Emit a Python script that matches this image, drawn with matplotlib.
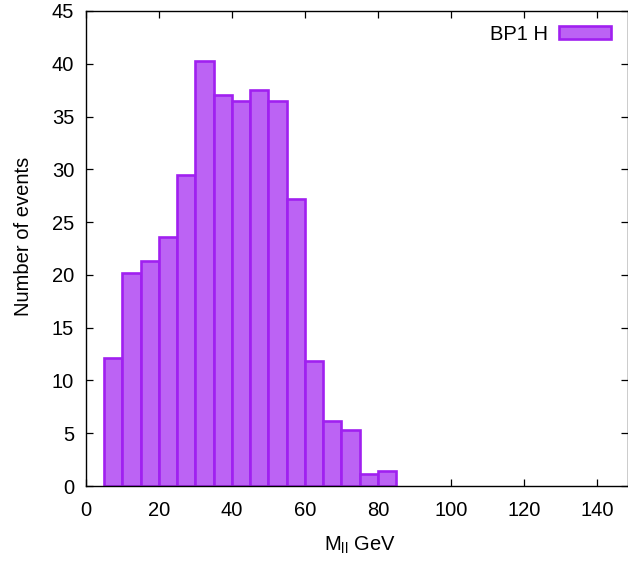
import matplotlib
matplotlib.use('Agg')
from matplotlib import pyplot as plt
import numpy as np

# histogram bins (GeV), width 5
bin_edges = [5, 10, 15, 20, 25, 30, 35, 40, 45, 50, 55, 60, 65, 70, 75, 80, 85]
counts = [12.1, 20.2, 21.3, 23.6, 29.5, 40.3, 37.0, 36.5, 37.5, 36.5,
          27.2, 11.8, 6.2, 5.35, 1.15, 1.45]
series_label = 'BP1 H'

x_ticks = [0, 20, 40, 60, 80, 100, 120, 140]
y_ticks = [0, 5, 10, 15, 20, 25, 30, 35, 40, 45]

font = 'Liberation Sans'
fs = 14.5
plt.rcParams['font.family'] = [font, 'DejaVu Sans']
plt.rcParams['mathtext.fontset'] = 'custom'
plt.rcParams['mathtext.rm'] = font
plt.rcParams['mathtext.it'] = font

fig = plt.figure(figsize=(6.28, 5.63), dpi=100)
ax = fig.add_axes([86 / 628, 77 / 563, 541.5 / 628, 475 / 563])

edges = np.array(bin_edges, dtype=float)
ax.bar(edges[:-1], counts, width=np.diff(edges), align='edge',
       color='#bc63f4', edgecolor='#a020f0', linewidth=1.9, label=series_label,
       zorder=2)

ax.set_xlim(0, 148.4)
ax.set_ylim(0, 45)
ax.set_xticks(x_ticks)
ax.set_yticks(y_ticks)

ax.tick_params(direction='in', top=True, right=True, length=5, width=0.9,
               labelsize=fs)
ax.tick_params(axis='x', pad=11)
ax.tick_params(axis='y', pad=8.5)

for s in ax.spines.values():
    s.set_linewidth(1.0)

ax.set_xlabel(r'M$_{\mathrm{ll}}$ GeV', fontsize=fs)
ax.set_ylabel('Number of events', fontsize=fs)
ax.xaxis.set_label_coords(0.5 + 3 / 541.5, -(49 / 475))
ax.yaxis.set_label_coords(-(53 / 541.5), 0.526)

leg = ax.legend(loc='upper right', bbox_to_anchor=(0.9695, 0.971),
                frameon=False, markerfirst=False,
                handlelength=2.6, handleheight=0.6, handletextpad=0.55,
                borderaxespad=0, borderpad=0, fontsize=fs)

fig.savefig('out.png', dpi=100)
